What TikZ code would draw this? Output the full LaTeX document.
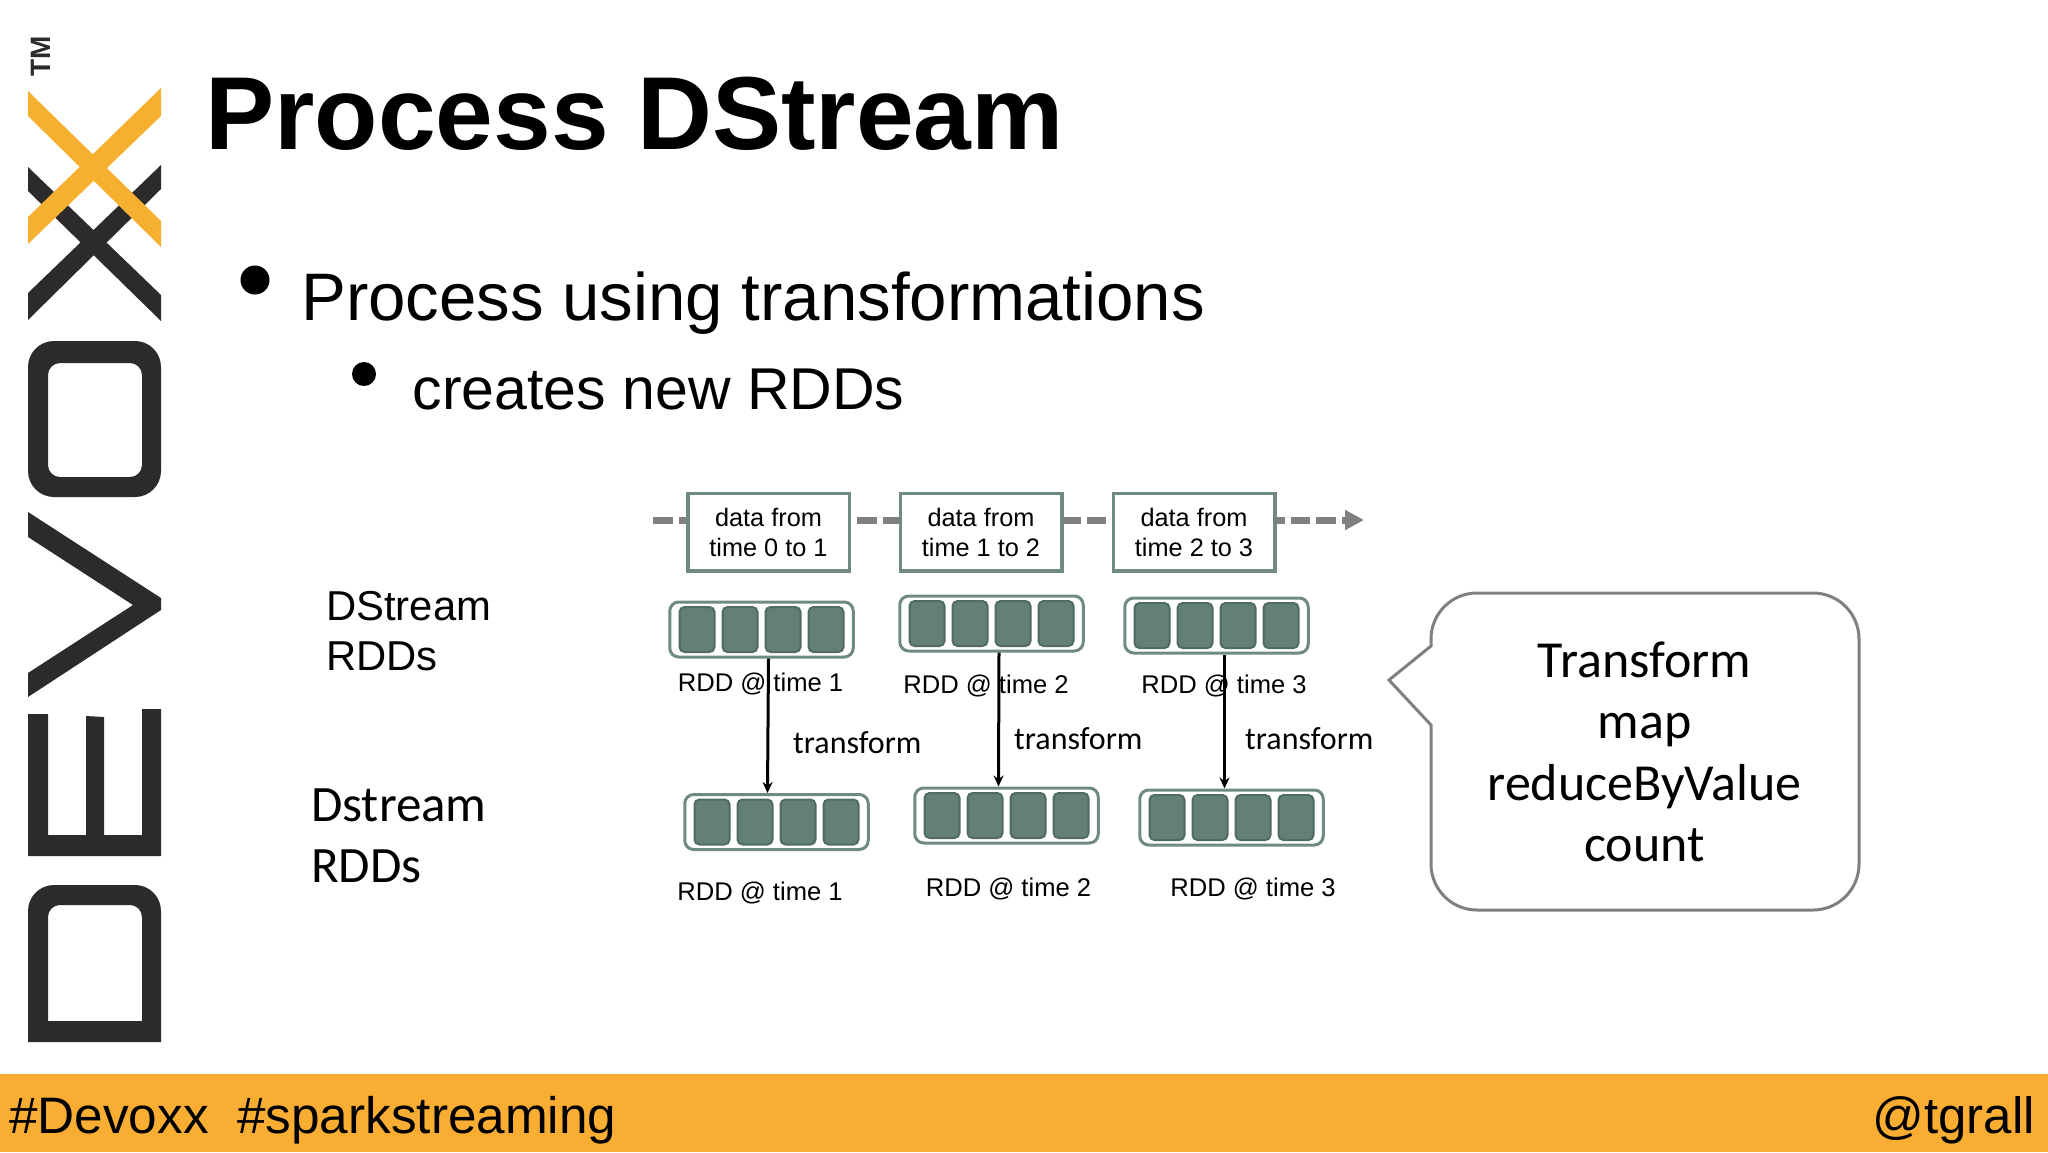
\documentclass[tikz,border=0pt]{standalone}
\usepackage{fontspec}
\setmainfont{Liberation Sans}
\newfontfamily\carlito{Carlito}
\usepackage{tikz}
\usetikzlibrary{arrows.meta}
\definecolor{logodark}{HTML}{2D2A2B}
\definecolor{logoorange}{HTML}{F6B02F}
\definecolor{barorange}{HTML}{F9AE33}
\definecolor{boxedge}{HTML}{6F8A83}
\definecolor{cellfill}{HTML}{637F78}
\definecolor{celledge}{HTML}{4F6B64}
\tikzset{
  plaintext/.style={inner sep=0pt,anchor=base west},
  databox/.style={draw=boxedge,fill=white,line width=3.5pt,minimum width=161.5pt,minimum height=77.5pt,inner sep=0pt,align=center,font=\fontsize{25.3}{30}\selectfont},
  rddbox/.style={draw=boxedge,fill=white,line width=3pt,rounded corners=9pt,minimum width=183.5pt,minimum height=55pt,inner sep=0pt},
  rddcell/.style={draw=celledge,fill=cellfill,line width=2pt,rounded corners=5pt,minimum width=35pt,minimum height=45pt,inner sep=0pt},
  rddlabel/.style={inner sep=0pt,anchor=base,font=\fontsize{25.6}{30}\selectfont},
  translabel/.style={inner sep=0pt,anchor=base west,font=\carlito\fontsize{32}{38}\selectfont},
  transarrow/.style={-{Stealth[length=11pt,width=10pt]},line width=3pt},
  dot/.style={circle,fill=black,inner sep=0pt}
}
\begin{document}
\begin{tikzpicture}[x=1pt,y=-1pt]
  \useasboundingbox (0,0) rectangle (2048,1152);
  % logo
  \node[rotate=90,inner sep=0pt,text=logodark,font=\bfseries\fontsize{28}{30}\selectfont] (logotm) at (41,56) {TM};
  \fill[logodark] (28,167) -- (28,191) -- (161,321) -- (161,295) -- cycle;
  \fill[logodark] (28,293) -- (28,320) -- (161,189) -- (161,165) -- cycle;
  \fill[logoorange] (28,91) -- (28,116) -- (161,247) -- (161,221) -- cycle;
  \fill[logoorange] (28,217) -- (28,244) -- (161,116) -- (161,88) -- cycle;
  \fill[logodark,even odd rule] [rounded corners=26pt] (28,341) rectangle (161,497) [rounded corners=12pt] (48,363) rectangle (142,477);
  \fill[logodark] (28,512) -- (28,537) -- (133,605) -- (28,673) -- (28,697) -- (161,610) -- (161,598) -- cycle;
  \fill[logodark] (28,856) -- (161,856) -- (161,709) -- (142,709) -- (142,835) -- (104,835) -- (104,717) -- (86,716) -- (86,835) -- (48,835) -- (48,714) -- (28,714) -- cycle;
  \fill[logodark,even odd rule] (28,1042) [rounded corners=26pt] -- (28,885) -- (161,885) [sharp corners] -- (161,1042) -- cycle
    (48,1021) [rounded corners=12pt] -- (48,905) -- (142,905) [sharp corners] -- (142,1021) -- cycle;
  % slide text
  \node[plaintext,font=\bfseries\fontsize{103.7}{110}\selectfont] (title) at (205,149) {Process DStream};
  \node[dot,minimum size=29pt] (bulletone) at (255,280) {};
  \node[plaintext,font=\fontsize{67.2}{72}\selectfont] (pointone) at (301,320) {Process using transformations};
  \node[dot,minimum size=24pt] (bullettwo) at (364,374) {};
  \node[plaintext,font=\fontsize{59}{64}\selectfont] (pointtwo) at (412.5,409) {creates new RDDs};
  \node[plaintext,align=left,font=\fontsize{41.8}{50}\selectfont] (labeltop) at (326,670) {DStream\\RDDs};
  \node[plaintext,align=left,font=\carlito\fontsize{51}{61}\selectfont] (labelbottom) at (311,882) {Dstream\\RDDs};
  % data stream
  \coordinate (streamstart) at (653,520);
  \coordinate (streamend) at (1364,520);
  \draw[draw=gray,line width=7pt,dash pattern=on 19.5pt off 6pt,-{Triangle[length=19pt,width=19pt]}] (streamstart) -- (streamend);
  \node[databox] (dataone) at (768.5,532) {data from\\time 0 to 1};
  \node[databox] (datatwo) at (981,532) {data from\\time 1 to 2};
  \node[databox] (datathree) at (1194,532) {data from\\time 2 to 3};
  % rdds
  \foreach \name/\x/\y/\lx/\ly/\t in {topone/761.5/629.5/760.5/691/1,toptwo/991.5/623.5/986/693/2,topthree/1216.5/625.5/1224/693/3,
      botone/776.5/822/760/900/1,bottwo/1006.5/815.5/1008.5/896/2,botthree/1231.5/817.5/1253/896/3} {
    \node[rddbox] (\name) at (\x,\y) {};
    \foreach \c [count=\n] in {-64.5,-21.5,21.5,64.5}
      \node[rddcell] (\name cell\n) at (\x+\c,\y) {};
    \node[rddlabel] (\name label) at (\lx,\ly) {RDD @ time \t};
  }
  \draw[transarrow] ([xshift=7pt]topone.south) -- ([xshift=-9pt]botone.north);
  \draw[transarrow] ([xshift=7.5pt]toptwo.south) -- ([xshift=-8pt]bottwo.north);
  \draw[transarrow] ([xshift=8pt]topthree.south) -- ([xshift=-7pt]botthree.north);
  \node[translabel] (transone) at (793,753) {transform};
  \node[translabel] (transtwo) at (1014,749) {transform};
  \node[translabel] (transthree) at (1245,749) {transform};
  % callout
  \draw[draw=gray,line width=3pt] (1431,646) [rounded corners=46pt] -- (1431,593) -- (1859,593) -- (1859,910) -- (1431,910) [sharp corners] -- (1431,725) -- (1389,680) -- cycle;
  \node[inner sep=0pt,align=center,font=\carlito\fontsize{52}{61.5}\selectfont] (callouttext) at (1644.5,752) {Transform\\map\\reduceByValue\\count};
  % bottom bar
  \fill[barorange] (0,1073.5) rectangle (2048,1152);
  \node[plaintext,font=\fontsize{51.3}{56}\selectfont] (tagsleft) at (9,1133) {\#Devoxx\ \ \#sparkstreaming};
  \node[inner sep=0pt,anchor=base east,font=\fontsize{51}{56}\selectfont] (tagsright) at (2035,1133) {@tgrall};
\end{tikzpicture}
\end{document}
